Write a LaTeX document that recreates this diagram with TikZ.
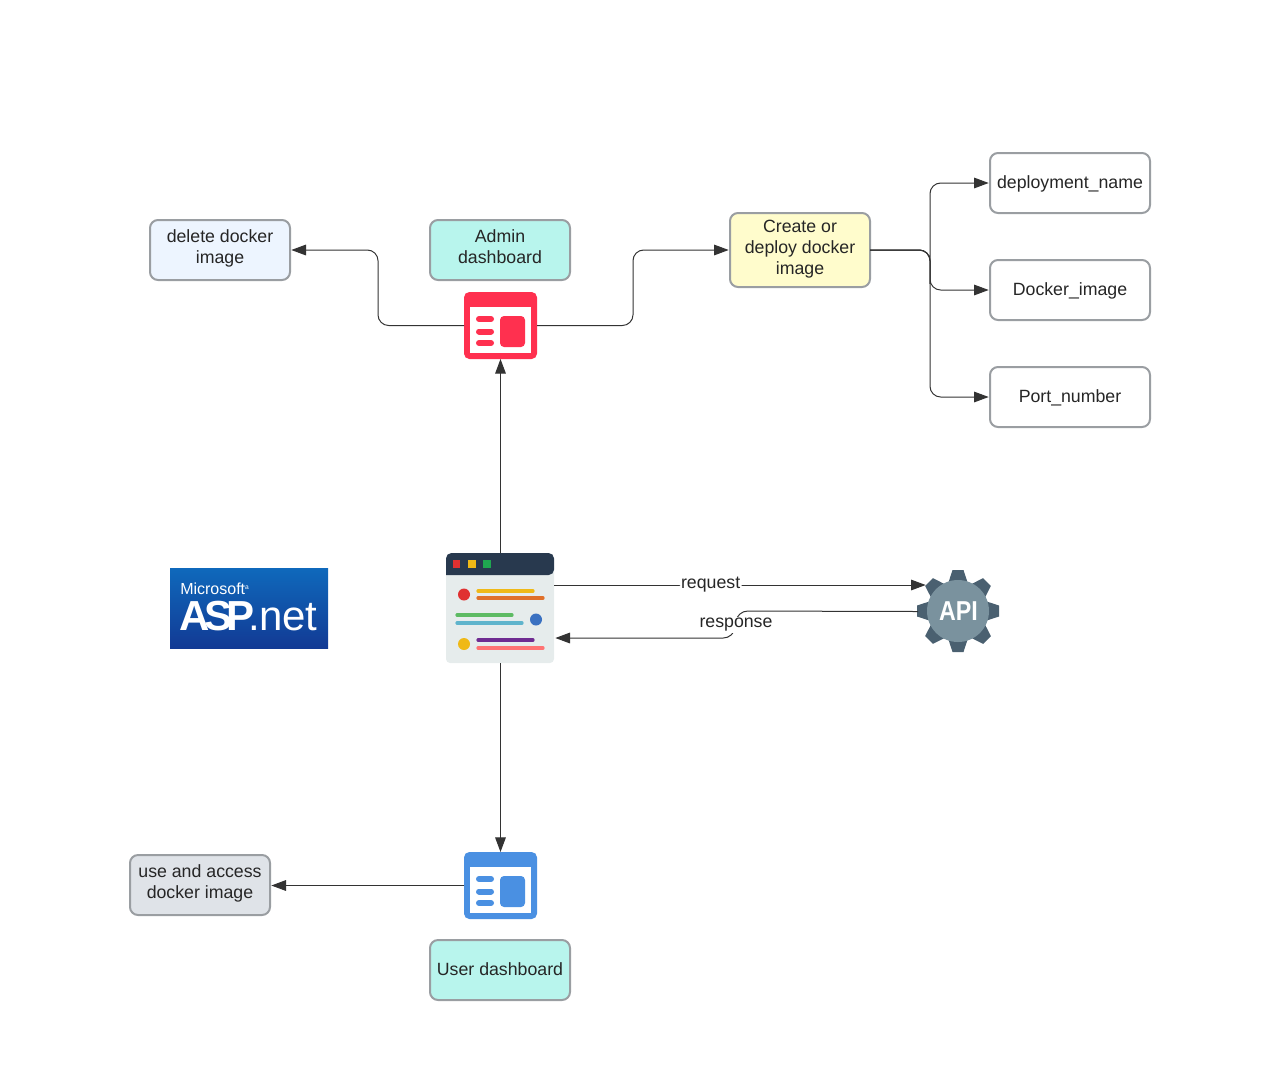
\documentclass[tikz,border=0pt]{standalone}
\usepackage{fontspec}
\usepackage{graphicx}
\setmainfont{Liberation Sans}
\usetikzlibrary{arrows.meta,calc}
\def\pxu{0.75pt}
\definecolor{edgec}{HTML}{333333}
\definecolor{bordc}{HTML}{9A9EA2}
\definecolor{tealf}{HTML}{B8F5ED}
\definecolor{bluef}{HTML}{EDF5FF}
\definecolor{yellf}{HTML}{FFFCCC}
\definecolor{greyf}{HTML}{DFE3E8}
\definecolor{redic}{HTML}{FF304F}
\definecolor{bluic}{HTML}{4A90E2}
\definecolor{gearb}{HTML}{7A929E}
\definecolor{geart}{HTML}{4A6070}
\definecolor{logot}{HTML}{0F69BC}
\definecolor{logob}{HTML}{123A94}
\definecolor{brbody}{HTML}{E6ECEC}
\definecolor{brhead}{HTML}{28394E}
\definecolor{cred}{HTML}{E03131}
\definecolor{cyel}{HTML}{EFB917}
\definecolor{cgrn}{HTML}{1FA750}
\definecolor{cblu}{HTML}{3A71C1}
\definecolor{corg}{HTML}{E0702A}
\definecolor{clgr}{HTML}{5DBB63}
\definecolor{ccya}{HTML}{5FB4CC}
\definecolor{cpur}{HTML}{6F2C91}
\definecolor{cpnk}{HTML}{FF7373}
\newcommand{\lowr}[1]{\raisebox{-0.75pt}{#1}}
\tikzset{
  boxn/.style={draw=bordc,line width=1.5pt,rounded corners=6pt,outer sep=0pt,inner sep=0pt,
    minimum width=140*\pxu,minimum height=60*\pxu,align=center,text=black!85,
    font=\fontsize{13.3pt}{15.8pt}\selectfont,
    execute at begin node=\strut,execute at end node=\strut},
  widebox/.style={boxn,minimum width=160*\pxu},
  iconn/.style={inner sep=0pt,outer sep=0pt,minimum width=73*\pxu,minimum height=67*\pxu},
  conn/.style={draw=edgec,line width=0.75pt,rounded corners=8pt,
    -{Triangle[length=11pt,width=8pt]},shorten >=1pt},
  vconn/.style={conn,shorten >=0pt},
  edgelab/.style={fill=white,inner sep=1pt,text=black!85,font=\fontsize{13.3pt}{15.8pt}\selectfont},
  barl/.style={line width=2.4pt,line cap=round},
  wbar/.style={line width=4.5pt,line cap=round}
}
\newcommand{\dashicon}[2]{%
  \fill[#2,rounded corners=4pt] (#1.north west) rectangle (#1.south east);
  \fill[white] ($(#1.north west)+(6,15)$) rectangle ($(#1.north west)+(67,61)$);
  \foreach \yy in {27,39.5,51}{
    \draw[#2,wbar] ($(#1.north west)+(15,\yy)$) -- ($(#1.north west)+(27,\yy)$);
  }
  \fill[#2,rounded corners=3pt] ($(#1.north west)+(36,24)$) rectangle ($(#1.north west)+(61,55)$);
}
\begin{document}
\begin{tikzpicture}[x=\pxu,y=-\pxu]
\useasboundingbox (0,0) rectangle (1274,1076);

% boxes
\node[boxn,fill=bluef] (del) at (220,250) {delete docker\\image};
\node[boxn,fill=tealf] (admin) at (500,250) {Admin\\dashboard};
\node[boxn,fill=yellf,minimum height=74*\pxu] (create) at (800,250) {\lowr{Create or}\\\lowr{deploy docker}\\\lowr{image}};
\node[widebox,fill=white] (depl) at (1070,183) {\lowr{deployment\_name}};
\node[widebox,fill=white] (dimg) at (1070,290) {\lowr{Docker\_image}};
\node[widebox,fill=white] (port) at (1070,397) {\lowr{Port\_number}};
\node[boxn,fill=greyf] (use) at (200,885) {use and access\\docker image};
\node[boxn,fill=tealf] (userd) at (500,970) {\lowr{User dashboard}};

% dashboard icons
\node[iconn] (redi) at (500.5,325.5) {};
\dashicon{redi}{redic}
\node[iconn] (blui) at (500.5,885.5) {};
\dashicon{blui}{bluic}

% browser icon
\node[inner sep=0pt,outer sep=0pt,minimum width=108*\pxu,minimum height=110*\pxu] (brow) at (500.5,608) {};
\fill[brbody,rounded corners=3pt] (446,565) rectangle (554,663);
\fill[brhead,rounded corners=4pt] (446,575) -- (446,553) -- (554,553) -- (554,575) [sharp corners] -- cycle;
\fill[cred] (452.5,560) rectangle (460,568);
\fill[cyel] (468,560) rectangle (475.5,568);
\fill[cgrn] (483,560) rectangle (490.5,568);
\fill[cred] (464,594.5) circle (6);
\fill[cblu] (536,619.5) circle (6);
\fill[cyel] (464,644) circle (6);
\draw[barl,cyel] (478,591) -- (533,591);
\draw[barl,corg] (478,598) -- (543,598);
\draw[barl,clgr] (457,615) -- (512,615);
\draw[barl,ccya] (457,623) -- (522,623);
\draw[barl,cpur] (478,640) -- (533,640);
\draw[barl,cpnk] (478,648) -- (543,648);

% API gear
\foreach \ang in {0,45,...,315}{
  \fill[geart,rotate around={\ang:(958,611)}]
    (946,590) -- (952.5,570) -- (963.5,570) -- (970,590) -- cycle;
}
\fill[gearb] (958,611) circle (31);
\node[inner sep=0pt,outer sep=0pt,minimum width=81*\pxu,minimum height=81*\pxu,text=white,
  font=\fontsize{20.5pt}{20.5pt}\selectfont\bfseries] (api) at (958.5,611.5) {\scalebox{.85}[1]{API}};

% ASP.net logo
\node[inner sep=0pt,outer sep=0pt,minimum width=158*\pxu,minimum height=80*\pxu,
  top color=logot,bottom color=logob] (logo) at (249,608) {};
\node[anchor=base west,inner sep=0pt,text=white,font=\fontsize{12pt}{12pt}\selectfont]
  (logoa) at (180,594) {Microsoft\raisebox{3.5pt}{\fontsize{5pt}{5pt}\selectfont a}};
\node[anchor=base west,inner sep=0pt,text=white,font=\fontsize{31.5pt}{32pt}\selectfont]
  (logob2) at (179,630) {{\bfseries A\kern-.13em S\kern-.13em P}\kern-.14em.\kern-.03em net};

% connectors
\coordinate (jl) at (378,290);
\coordinate (jr) at (633,290);
\coordinate (jc) at (930,290);
\coordinate (reqa) at (554,585);
\coordinate (reqb) at (927,585);
\coordinate (resa) at (737,611);
\coordinate (resb) at (734,638);
\coordinate (resc) at (554,638);

\draw[vconn] (brow.north) -- (brow.north |- redi.south);
\draw[vconn] (brow.south) -- (brow.south |- blui.north);
\draw[conn] (blui.west) -- (blui.west -| use.east);
\draw[conn] (redi.west) -| (jl) |- (del.east);
\draw[conn] (redi.east) -| (jr) |- (create.west);
\draw[conn] (create.east) -| (jc) |- (depl.west);
\draw[conn] (create.east) -| (jc) |- (dimg.west);
\draw[conn] (create.east) -| (jc) |- (port.west);
\draw[conn] (reqa) -- node[edgelab,pos=.42] (reql) {request} (reqb);
\draw[conn] (api.west) -- (resa) -- (resb) -- (resc);
\node[edgelab] (resl) at (736,625) {response};
\end{tikzpicture}
\end{document}
